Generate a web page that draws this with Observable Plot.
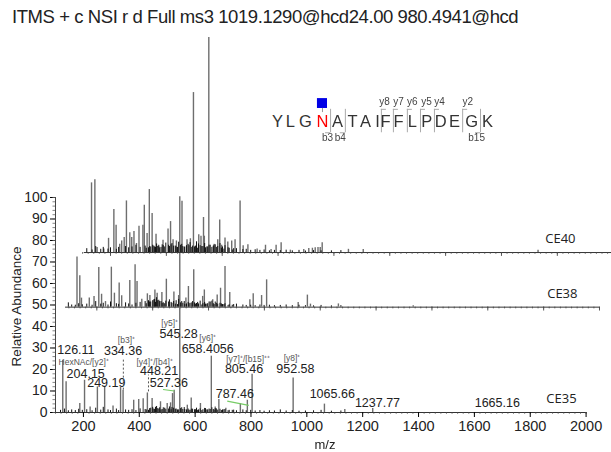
<!DOCTYPE html>
<html><head><meta charset="utf-8">
<script src="https://cdn.jsdelivr.net/npm/d3@7"></script>
<script src="https://cdn.jsdelivr.net/npm/@observablehq/plot@0.6"></script>
<style>
html,body{margin:0;padding:0;background:#fff;overflow:hidden}
#t{height:30px;font:18.5px "Liberation Sans",Arial,sans-serif;letter-spacing:-0.43px;color:#222;padding:6px 0 0 12px;box-sizing:border-box;white-space:pre}
svg{filter:blur(0.35px)}
</style></head><body>
<div id="t">ITMS + c NSI r d Full ms3 1019.1290@hcd24.00 980.4941@hcd</div>
<script>
// Peaks: plotted position on the shared m/z axis and height above each trace's own baseline
const ce35Mz=[126,138,187,204,224,250,276,306,333,342,380,398,414,429,446,476,500,512,519,525,545,572,586,619,658,672,685,710,762,787,804,951,1063,1136,1236];
const ce35H=[24.3,14.3,4.2,15,2.6,11.9,12.2,3,11.6,10.4,5.7,6,6.4,9.1,6.5,5,4.2,4.5,8.8,10.4,74,3.4,6.8,4.2,26.2,2.6,6,2,4.2,5.7,17.8,16.1,3.9,1.4,1.9];
const ce38Mz=[177,187,193,221,238,255,265,279,300,311,328,337,366,385,392,409,429,438,456,464,481,497,524,541,567,576,595,627,633,663,679,691,707,724,796,808,838,856,969,1002,1013,1113,1381];
const ce38H=[23.3,14.6,4.2,4.2,5,18.4,6,2.6,18.6,6.5,11.2,5.3,12.4,19.7,11.9,3.7,6.2,5.4,8,6.5,6.8,13,7,5.4,4.2,9.6,17.4,5,8,3.4,5.6,8.8,18.9,6.8,3.4,6.2,5.4,12.7,2.2,5.6,1.4,1.5,0.6];
const ce40Mz=[229,241,249,273,290,309,317,330,337,346,354,366,373,381,390,399,413,418,428,436,446,460,469,485,503,512,521,533,545,553,571,583,594,613,621,630,633,649,667,681,688,695,707,717,731,743,761,772,789,822,852,872,890,908,941,989,1007,1020,1030,1040,1048,1055,1149,1202,1828];
const ce40H=[32.4,33.9,2.3,1.6,6.6,20,12.7,3.9,5.4,7,24,9.2,7,9.8,4.2,12.2,12.7,22,8.8,29.3,18.1,8.5,3.4,5.7,11,14.4,6,5.4,25.9,23.9,6,6.4,74.4,8.3,7.6,16.3,7.6,100,3.1,6,15.1,3.4,6.8,4.9,5.4,6,24,3.1,3.6,1.7,3.4,1.4,3.4,4.5,1.1,1.4,1.9,2,2.2,2.3,2.4,4.6,1.5,1.4,1.1];
// Low dark noise under each trace
const noiseMz=[118,132,146,158,171,183,196,212,231,244,262,271,288,297,318,326,351,362,374,388,403,421,433,441,452,458,466,473,482,491,505,517,529,537,552,563,578,588,601,609,624,637,645,654,668,676,694,703,718,733,748,771,783,799,815,832,847,866,884,905,926,948,972,995,1024,1051,1088,1122];
const noise35=[1,1.6,.8,1.2,.9,1.5,1,1.3,.8,2,1.1,2.4,1.2,.9,1.6,.9,1.2,1,1.3,.9,1.7,1.4,1,2,1.6,2.4,1.8,2.2,1.4,2,1.6,2.3,1.5,1.2,2.2,1.4,1,1.6,1.3,1,.9,1.8,1.2,1.4,1.1,1.7,.9,1.3,.8,1,.8,1.2,.8,1,.7,.9,.6,.8,.7,1.2,.7,.9,.6,.7,.8,1,.6,.7];
const noise38=[.8,1.2,2,1,.9,1.6,1.1,1.4,.9,2.6,1.4,1.8,1,2.4,1.6,1.3,2,1.5,1,1.8,2.2,2.6,3,2.4,3.4,2.2,3,2.6,1.8,1.6,2.4,1.8,1.4,1.2,2.6,1.2,1.6,2,1.4,2.2,1,1.4,1.6,2.4,1.2,1.8,1.5,1.2,.8,.9,1.4,1,.8,.9,.7,1,.8,.9,.7,.8,1,.7,.9,.7,.6,.8,.6,.7];
const noise40=[.6,.8,1,.9,1.2,1.4,1.1,1.8,1.2,2.8,1.5,2.4,1.6,2.2,1.5,2.4,2.8,2.2,2.6,3.4,2.4,3,2.2,2.6,3,2.4,2.8,2.2,3.6,2.6,3.4,4.2,3,2.4,3.8,2.6,3.2,2.4,3,2,2.8,2.2,2.6,3.4,3.8,2.4,2,1.6,2.2,1.2,1.8,1.4,1.5,1,1.3,1,1.2,.8,1,.9,1.1,.8,1,.7,.9,.8,.8,.9];
// Denser dark cluster in the crowded middle of each trace
const denseMz=[425,437,448,455,462,470,478,486,495,508,514,523,532,541,548,556,561,569,575,582,591,598,605,612,618,628,634,642,650,660,665,672,681,689,698,707,722,738];
const dense35=[1.2,1.8,2.4,1.4,2.8,1.6,1.2,2.2,1.5,2.6,1.3,2,1.6,1.2,1.8,1.4,2.3,1.2,1.6,1.1,1.5,1.3,2,1.2,1.7,1.3,1.9,1.2,1.6,2.2,1.4,1.8,1.1,1.5,1.2,1.4,1,1.1];
const dense38=[1.6,2.4,3,3.6,4.4,3.2,2.6,2,2.8,3.4,2.2,2.6,3,3.6,2,1.8,2.6,1.5,2.2,1.8,2.6,2,1.7,1.5,2.8,1.6,2.2,1.4,2.4,2.8,1.6,2.4,1.4,1.8,1.2,1.6,1.1,1.2];
const dense40=[2,2.8,3.4,2.6,4,3,2.4,3.2,4.4,2.8,3.6,3,2.6,4.8,3.4,2.8,2.4,3.2,3.8,4.6,3,2.6,5,4,3.2,2.8,4.2,2.6,3.4,2.4,3,3.6,2.8,4.2,2.6,3.2,2,1.8];
// Baselines: value on the y axis, x shift of the tick comb, start and end on the x axis
const traceNames=["CE35","CE38","CE40"];
const baseValues=[0,49,74.4];
const combShift=[0,48,97];
const baseStart=[100,136,203];
const baseEnd=[2000,2048,2091];
const majorTicks=[200,400,600,800,1000,1200,1400,1600,1800,2000];
const minorTicks=d3.range(100,2001,20);
const yTicks=[0,10,20,30,40,50,60,70,80,90,100];
const yMinor=d3.range(0,101,2);
// Annotation text
const labelText=["126.11","204.15","249.19","334.36","448.21","527.36","545.28","658.4056","805.46","952.58","787.46","1065.66","1237.77","1665.16"];
const labelMz=[173,208,282,342,471,506,541,645,775,959,742,1091,1253,1682];
const labelVal=[29,18.1,13.5,28.7,19.2,13.5,36.4,29.5,20.2,20.2,8.8,8.8,4.2,4.2];
const ionText=["HexNAc/[y2]⁺","[b3]⁺","[y4]⁺/[b4]⁺","[y5]⁺","[y6]⁺","[y7]⁺/[b15]⁺⁺","[y8]⁺"];
const ionMz=[201,354,455,509,645,790,947];
const ionVal=[23.2,33.6,23.4,41.4,34.6,24.8,25.1];
const ceMz=[1912,1915,1908];
const ceVal=[6.5,55.3,81];
// Peptide sequence
const seqLetters=["Y","L","G","N","A","T","A","I","F","F","L","P","D","E","G","K"];
const seqMz=[895,941,995,1056,1110,1164,1210,1253,1282,1328,1378,1429,1479,1529,1590,1647];
const yIonMz=[1267,1310,1360,1407,1457,1558];
const bIonMz=[1085,1138,1622];
const yIonLabels=["y8","y7","y6","y5","y4","y2"];
const yIonLabelMz=[1278,1328,1378,1429,1475,1576];
const bIonLabels=["b3","b4","b15"];
const bIonLabelMz=[1074,1120,1608];
const SEQ=135.3, FONT="Liberation Sans";

function peaks(mz,h,base){return mz.map((m,i)=>({m,y1:base,y2:base+h[i]}));}
function comb(t,len,shift,base,end){return t.filter(v=>v+shift<=end).map(v=>({m:v+shift,y1:base-len,y2:base}));}
const marks=[];
traceNames.forEach((_,i)=>{
  const b=baseValues[i],s=combShift[i],e=baseEnd[i];
  marks.push(Plot.ruleY([b],{x1:baseStart[i],x2:e,stroke:"#333",strokeWidth:1}));
  marks.push(Plot.ruleX(comb(minorTicks,.8,s,b,e),{x:"m",y1:"y1",y2:"y2",stroke:"#444",strokeWidth:.8}));
  if(i>0)marks.push(Plot.ruleX(comb(majorTicks,1.8,s,b,e),{x:"m",y1:"y1",y2:"y2",stroke:"#444",strokeWidth:.9}));
});
[[ce35Mz,ce35H],[ce38Mz,ce38H],[ce40Mz,ce40H]].forEach(([m,h],i)=>
  marks.push(Plot.ruleX(peaks(m,h,baseValues[i]),{x:"m",y1:"y1",y2:"y2",stroke:"#6e6e6e",strokeWidth:1.4})));
[noise35,noise38,noise40].forEach((h,i)=>
  marks.push(Plot.ruleX(peaks(noiseMz,h,baseValues[i]).filter(d=>d.m>=baseStart[i]),{x:"m",y1:"y1",y2:"y2",stroke:"#111",strokeWidth:1})));
[dense35,dense38,dense40].forEach((h,i)=>
  marks.push(Plot.ruleX(peaks(denseMz,h,baseValues[i]),{x:"m",y1:"y1",y2:"y2",stroke:"#111",strokeWidth:1})));
// axes
marks.push(Plot.ruleX([100],{y1:0,y2:100,stroke:"#444"}));
marks.push(Plot.axisY({ticks:yTicks,tickSize:5,tickPadding:3,label:null,fontSize:14,fontFamily:FONT,fill:"#222"}));
marks.push(Plot.ruleY(yMinor,{x1:91,x2:100,stroke:"#666",strokeWidth:.8}));
marks.push(Plot.axisX({ticks:majorTicks,tickSize:5,tickPadding:3,label:null,tickFormat:"d",fontSize:14.5,fontFamily:FONT,fill:"#222"}));
// annotations
marks.push(Plot.text(labelText,{x:(d,i)=>labelMz[i],y:(d,i)=>labelVal[i],text:d=>d,fontSize:12.5,fontFamily:FONT,fill:"#222"}));
marks.push(Plot.text(ionText,{x:(d,i)=>ionMz[i],y:(d,i)=>ionVal[i],text:d=>d,fontSize:8.5,fontFamily:FONT,fill:"#555"}));
marks.push(Plot.text(traceNames,{x:(d,i)=>ceMz[i],y:(d,i)=>ceVal[i],text:d=>d,fontSize:13,fontFamily:"Open Sans",fill:"#222"}));
marks.push(Plot.ruleX([343],{y1:10.4,y2:25,stroke:"#555",strokeDasharray:"2,2"}));
marks.push(Plot.ruleX([433],{y1:9.6,y2:17.4,stroke:"#555",strokeDasharray:"2,2"}));
marks.push(Plot.link([{a:485,b:10.7,c:526,d:10},{a:715,b:5.3,c:792,d:3.3}],{x1:"a",y1:"b",x2:"c",y2:"d",stroke:"#77cc66",strokeWidth:1.2}));
marks.push(Plot.text(["Relative Abundance"],{x:-40,y:49.3,rotate:-90,fontSize:13.5,fontFamily:FONT,fill:"#222"}));
marks.push(Plot.text(["m/z"],{x:1065,y:-15,fontSize:13,fontFamily:FONT,fill:"#222"}));
// peptide
marks.push(Plot.ruleX(yIonMz.concat(bIonMz),{y1:SEQ-5.2,y2:SEQ+5.7,stroke:"#aaa",strokeWidth:1}));
marks.push(Plot.ruleY(yIonMz.map(m=>({m,v:SEQ+5.7})),{x1:"m",x2:d=>d.m+18,y:"v",stroke:"#aaa"}));
marks.push(Plot.ruleY(bIonMz.map(m=>({m,v:SEQ-5.2})),{x1:d=>d.m-18,x2:"m",y:"v",stroke:"#aaa"}));
marks.push(Plot.text(seqLetters,{x:(d,i)=>seqMz[i],y:SEQ,text:d=>d,fontSize:16.5,fontFamily:FONT,fill:(d,i)=>i===3?"red":"#333"}));
marks.push(Plot.text(yIonLabels,{x:(d,i)=>yIonLabelMz[i],y:144.3,text:d=>d,fontSize:10,fontFamily:FONT,fill:"#444"}));
marks.push(Plot.text(bIonLabels,{x:(d,i)=>bIonLabelMz[i],y:127.6,text:d=>d,fontSize:10,fontFamily:FONT,fill:"#444"}));
marks.push(Plot.rect([0],{x1:1038,x2:1074,y1:141.4,y2:146,fill:"#0000e6"}));
marks.push(Plot.ruleX([1056],{y1:139.5,y2:141.4,stroke:"#999"}));

const chart=Plot.plot({width:611,height:422,marginTop:0,marginBottom:40,marginLeft:55,marginRight:0,
  x:{type:"linear",domain:[100,2091],axis:null},y:{type:"linear",domain:[0,177.67],axis:null},
  style:{background:"#fff",overflow:"visible"},marks});
document.body.appendChild(chart);
</script></body></html>
